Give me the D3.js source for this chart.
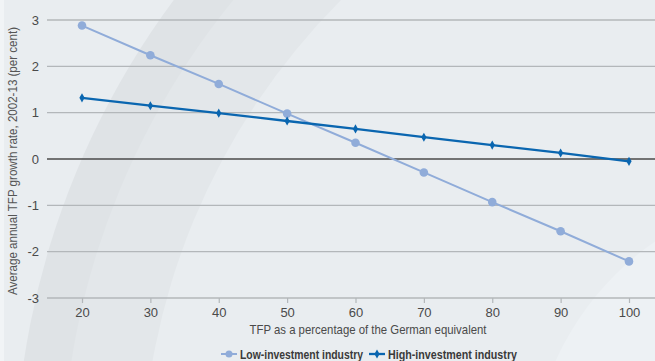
<!DOCTYPE html>
<html><head><meta charset="utf-8">
<script src="https://cdn.jsdelivr.net/npm/d3@7"></script>
<style>html,body{margin:0;padding:0;background:#e9edf0;}svg{display:block;}</style>
</head><body>
<svg id="c" width="655" height="361"></svg>
<script>
const categories = [20, 30, 40, 50, 60, 70, 80, 90, 100];
const lowInvestment = [2.88, 2.24, 1.62, 0.98, 0.35, -0.29, -0.93, -1.56, -2.21];
const highInvestment = [1.32, 1.15, 0.99, 0.82, 0.65, 0.47, 0.30, 0.13, -0.05];
const yTicks = [-3, -2, -1, 0, 1, 2, 3];
const seriesNames = ["Low-investment industry", "High-investment industry"];
const xTitle = "TFP as a percentage of the German equivalent";
const yTitle = "Average annual TFP growth rate, 2002-13 (per cent)";

const W = 655, H = 361;
const svg = d3.select("#c");
const font = "'Liberation Sans Narrow','Liberation Sans',Arial,sans-serif";

// background
svg.append("rect").attr("width", W).attr("height", H).attr("fill", "#e9edf0");
const cx = 820, cy = 480;
const rings = [
  {r: 805, fill: "#dfe3e6"},
  {r: 758, fill: "#e3e7ea"},
  {r: 678, fill: "#e9edf0"},
  {r: 290, fill: "#edf1f4"}
];
rings.forEach(d => svg.append("circle").attr("cx", cx).attr("cy", cy).attr("r", d.r).attr("fill", d.fill));
svg.append("rect").attr("x", 0).attr("y", 0).attr("width", 4).attr("height", H).attr("fill", "#f1f4f6");

const x = d3.scaleLinear().domain([20, 100]).range([82, 629]);
const y = d3.scaleLinear().domain([-3, 3]).range([298, 20]);
const plotLeft = 47, plotRight = 655;

// gridlines
svg.append("g").selectAll("line").data(yTicks).join("line")
  .attr("x1", plotLeft).attr("x2", plotRight)
  .attr("y1", d => y(d)).attr("y2", d => y(d))
  .attr("stroke", d => d === 0 ? "#4a4a4a" : "#b3b7ba")
  .attr("stroke-width", d => d === 0 ? 1.3 : 1.4);

// y labels
svg.append("g").selectAll("text").data(yTicks).join("text")
  .attr("x", 39).attr("y", d => y(d)).attr("dy", "0.35em")
  .attr("text-anchor", "end").attr("font-family", font).attr("font-size", 13)
  .attr("fill", "#4a4a4a").text(d => d);

// x axis ticks
const xAxis = d3.axisBottom(x).tickValues(categories).tickSize(5).tickSizeOuter(0).tickPadding(5);
const gx = svg.append("g").attr("transform", `translate(0,${y(-3)})`).call(xAxis);
gx.select(".domain").remove();
gx.selectAll(".tick line").attr("stroke", "#b3b7ba").attr("stroke-width", 1.2);
gx.selectAll(".tick text").attr("font-family", font).attr("font-size", 13).attr("fill", "#4a4a4a");

// titles
svg.append("text").attr("x", 368).attr("y", 334).attr("text-anchor", "middle")
  .attr("font-family", font).attr("font-size", 13).attr("fill", "#4a4a4a")
  .attr("textLength", 237).attr("lengthAdjust", "spacingAndGlyphs").text(xTitle);
svg.append("text").attr("transform", `translate(13,${(27 + 295) / 2}) rotate(-90)`)
  .attr("text-anchor", "middle").attr("dy", "0.35em")
  .attr("font-family", font).attr("font-size", 12.5).attr("fill", "#555")
  .attr("textLength", 268).attr("lengthAdjust", "spacingAndGlyphs").text(yTitle);

const lowColor = "#90acd9", highColor = "#0a66b0";
const line = d3.line().x((d, i) => x(categories[i])).y(d => y(d));

svg.append("path").datum(lowInvestment).attr("d", line).attr("fill", "none")
  .attr("stroke", lowColor).attr("stroke-width", 2);
svg.append("g").selectAll("circle").data(lowInvestment).join("circle")
  .attr("cx", (d, i) => x(categories[i])).attr("cy", d => y(d)).attr("r", 4.3).attr("fill", lowColor);

svg.append("path").datum(highInvestment).attr("d", line).attr("fill", "none")
  .attr("stroke", highColor).attr("stroke-width", 2.3);
const diamond = d3.symbol().type(d3.symbolDiamond).size(24);
svg.append("g").selectAll("path").data(highInvestment).join("path")
  .attr("transform", (d, i) => `translate(${x(categories[i])},${y(d)})`)
  .attr("d", diamond).attr("fill", highColor);

// legend
const leg = svg.append("g").attr("transform", "translate(221,354)");
const items = [
  {name: seriesNames[0], color: lowColor, type: "circle", w: 123},
  {name: seriesNames[1], color: highColor, type: "diamond", w: 129}
];
let lx = 0;
items.forEach(it => {
  const g = leg.append("g").attr("transform", `translate(${lx},0)`);
  g.append("line").attr("x1", 0).attr("x2", 16).attr("y1", 0).attr("y2", 0)
    .attr("stroke", it.color).attr("stroke-width", it.type === "circle" ? 2 : 2.3);
  if (it.type === "circle") g.append("circle").attr("cx", 8).attr("cy", 0).attr("r", 3.5).attr("fill", it.color);
  else g.append("path").attr("transform", "translate(8,0)").attr("d", diamond).attr("fill", it.color);
  g.append("text").attr("x", 19).attr("y", 0).attr("dy", "0.35em")
    .attr("font-family", font).attr("font-size", 13).attr("font-weight", "bold")
    .attr("fill", "#3a3a3a").attr("textLength", it.w).attr("lengthAdjust", "spacingAndGlyphs").text(it.name);
  lx += 19 + it.w + 6;
});
</script>
</body></html>
